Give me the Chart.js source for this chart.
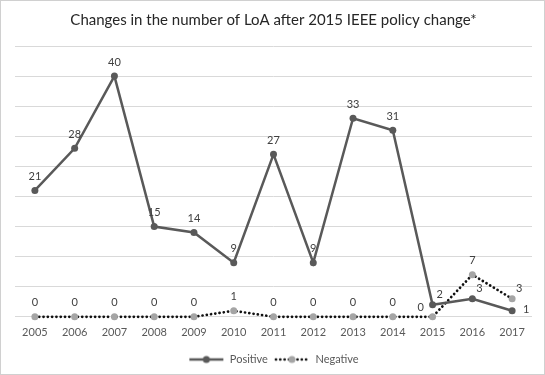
<!DOCTYPE html>
<html>
<head>
<meta charset="utf-8">
<script src="https://cdn.jsdelivr.net/npm/chart.js@4"></script>
<style>
  body { margin: 0; background: #fff; }
  #wrap { width: 545px; height: 375px; }
</style>
</head>
<body>
<div id="wrap"><canvas id="loaChart" width="545" height="375"></canvas></div>
<script>
const years = ['2005', '2006', '2007', '2008', '2009', '2010', '2011', '2012', '2013', '2014', '2015', '2016', '2017'];
const positive = [21, 28, 40, 15, 14, 9, 27, 9, 33, 31, 2, 3, 1];
const negative = [0, 0, 0, 0, 0, 1, 0, 0, 0, 0, 0, 7, 3];

// where each value label sits relative to its point
const positiveLabelPos = ['top', 'top', 'top', 'top', 'top', 'top', 'top', 'top', 'top', 'top', 'topRight', 'topRight', 'right'];
const negativeLabelPos = ['top', 'top', 'top', 'top', 'top', 'top', 'top', 'top', 'top', 'top', 'topLeft', 'top', 'topRight'];

const posColor = '#595959';
const negColor = '#a5a5a5';

// legend swatches: line with a marker in the middle
function makeSwatch(lineColor, dotted, markerColor) {
    const c = document.createElement('canvas');
    c.width = 36;
    c.height = 10;
    const ctx = c.getContext('2d');
    ctx.strokeStyle = lineColor;
    ctx.lineWidth = dotted ? 2.7 : 2.5;
    if (dotted) {
        ctx.setLineDash([0.1, 4.2]);
        ctx.lineCap = 'round';
    }
    ctx.beginPath();
    ctx.moveTo(dotted ? 2 : 1, 5);
    ctx.lineTo(35, 5);
    ctx.stroke();
    ctx.setLineDash([]);
    ctx.fillStyle = markerColor;
    ctx.beginPath();
    ctx.arc(18, 5, 3.5, 0, Math.PI * 2);
    ctx.fill();
    return c;
}

const swatches = [makeSwatch(posColor, false, posColor), makeSwatch('#111', true, negColor)];

const valueLabels = {
    id: 'valueLabels',
    afterDatasetsDraw(chart) {
        const ctx = chart.ctx;
        const placements = [positiveLabelPos, negativeLabelPos];
        ctx.save();
        ctx.font = '11px Lato, "Liberation Sans", sans-serif';
        ctx.fillStyle = '#404040';
        ctx.textAlign = 'center';
        ctx.textBaseline = 'middle';
        chart.data.datasets.forEach((ds, i) => {
            const meta = chart.getDatasetMeta(i);
            meta.data.forEach((pt, j) => {
                let dx = 0, dy = -14;
                const pos = placements[i][j];
                if (pos === 'topRight') { dx = 7; dy = -10; }
                if (pos === 'topLeft') { dx = -12; dy = -9; }
                if (pos === 'right') { dx = 14; dy = -1; }
                ctx.fillText(String(ds.data[j]), pt.x + dx, pt.y + dy);
            });
        });
        ctx.restore();
    }
};

const frame = {
    id: 'frame',
    beforeDraw(chart) {
        const ctx = chart.ctx;
        ctx.save();
        ctx.fillStyle = '#fff';
        ctx.fillRect(0, 0, chart.width, chart.height);
        ctx.strokeStyle = '#d0d0d0';
        ctx.lineWidth = 1;
        ctx.strokeRect(0.5, 0.5, chart.width - 1, chart.height - 1);
        ctx.restore();
    }
};

new Chart(document.getElementById('loaChart'), {
    type: 'line',
    data: {
        labels: years,
        datasets: [{
            label: 'Positive',
            data: positive,
            borderColor: posColor,
            backgroundColor: posColor,
            borderWidth: 2.5,
            pointRadius: 3.5,
            pointBackgroundColor: posColor,
            pointBorderWidth: 0,
            tension: 0,
            clip: false,
            order: 1
        }, {
            label: 'Negative',
            data: negative,
            borderColor: '#111',
            backgroundColor: negColor,
            borderWidth: 2.7,
            borderDash: [0.1, 4.2],
            borderCapStyle: 'round',
            pointRadius: 3.5,
            pointBackgroundColor: negColor,
            pointBorderWidth: 0,
            tension: 0,
            clip: false,
            order: 2
        }]
    },
    options: {
        responsive: false,
        animation: false,
        layout: { padding: { left: 15, right: 13, top: 11, bottom: 0 } },
        plugins: {
            title: {
                display: true,
                text: 'Changes in the number of LoA after 2015 IEEE policy change*',
                color: '#262626',
                font: { family: 'Lato, "Liberation Sans", sans-serif', size: 15, weight: 'normal' },
                padding: { top: 0, bottom: 17 }
            },
            legend: {
                position: 'bottom',
                labels: {
                    usePointStyle: true,
                    pointStyleWidth: 36,
                    boxHeight: 10,
                    padding: 6,
                    color: '#595959',
                    font: { family: 'Lato, "Liberation Sans", sans-serif', size: 11 },
                    generateLabels(chart) {
                        return chart.data.datasets.map((ds, i) => ({
                            text: ds.label,
                            pointStyle: swatches[i],
                            datasetIndex: i,
                            fontColor: '#595959',
                            lineWidth: 0
                        }));
                    }
                }
            },
            tooltip: { enabled: false }
        },
        scales: {
            x: {
                offset: true,
                grid: { display: false, drawTicks: false },
                border: { display: false },
                ticks: {
                    color: '#595959',
                    padding: 9,
                    font: { family: 'Lato, "Liberation Sans", sans-serif', size: 11 },
                    maxRotation: 0
                }
            },
            y: {
                min: 0,
                max: 45,
                ticks: { display: false, stepSize: 5 },
                grid: { color: '#d9d9d9', drawTicks: false },
                border: { display: false },
                afterFit(scale) { scale.width = 0; }
            }
        }
    },
    plugins: [frame, valueLabels]
});
</script>
</body>
</html>
